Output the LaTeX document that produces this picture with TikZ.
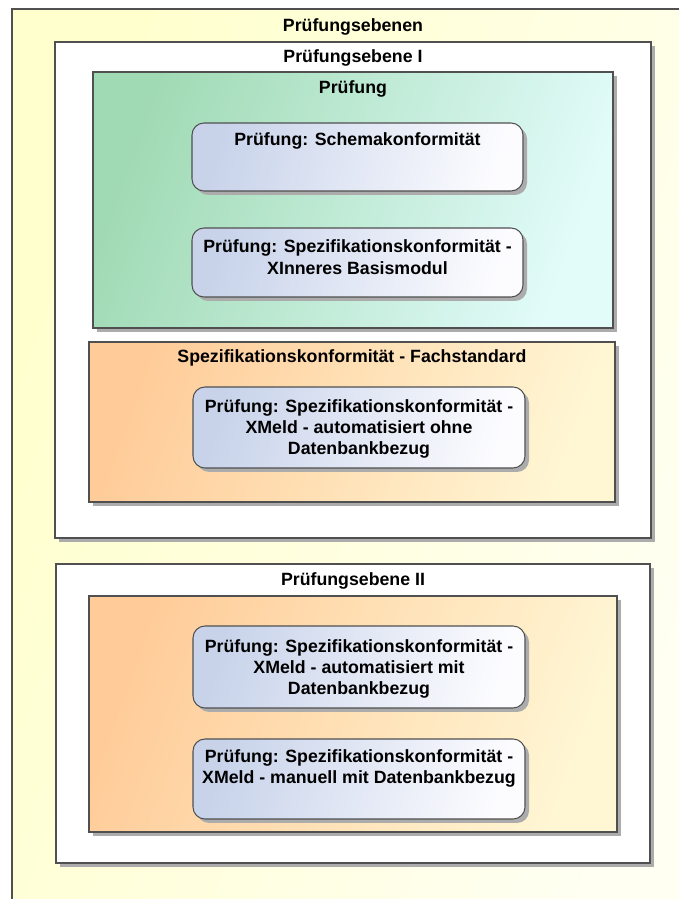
\documentclass[tikz,border=0pt]{standalone}
\usepackage{fontspec}
\setmainfont{Liberation Sans}
\usepackage{xcolor}
\definecolor{pfyellow}{RGB}{255,255,205}
\definecolor{pfyellow2}{RGB}{255,255,242}
\definecolor{pfgreen}{RGB}{160,218,180}
\definecolor{pfcyan}{RGB}{226,252,250}
\definecolor{pforange}{RGB}{255,204,153}
\definecolor{pforange2}{RGB}{255,246,212}
\definecolor{pfblue}{RGB}{200,211,234}
\definecolor{pfblue2}{RGB}{252,252,255}
\definecolor{pfline}{RGB}{80,80,80}
\definecolor{pfshadow}{RGB}{172,172,172}
\usepackage{tikz}
\usetikzlibrary{positioning, shadows}

\tikzset{
  pfshade/.style={drop shadow={shadow xshift=0.08cm, shadow yshift=-0.08cm, fill=pfshadow, opacity=1}},
  pfframe/.style={draw=pfline, line width=0.6pt, fill=white, pfshade},
  pfcheck/.style={draw=pfline, line width=0.6pt, rounded corners=0.24cm, pfshade,
    left color=pfblue, right color=pfblue2, shading angle=75},
  pflabel/.style={font=\fontsize{10.1}{12.2}\selectfont\bfseries, align=center, inner sep=0pt}
}

\begin{document}
\begin{tikzpicture}
  \clip (0,0) rectangle (13.58,17.98);
  \fill[white] (0,0) rectangle (13.58,17.98);

  % Outer frame
  \draw[draw=pfline, line width=0.6pt, left color=pfyellow, right color=pfyellow2, shading angle=70]
    (0.24,17.80) rectangle (13.80,-0.30);
  \node[pflabel] (ebenen) at (7.06,17.44) {Prüfungsebenen};

  % Pruefungsebene I
  \draw[pfframe] (1.10,17.14) rectangle (13.02,7.22);
  \node[pflabel] (ebeneI) at (7.06,16.82) {Prüfungsebene I};

  % Pruefung (green)
  \draw[pfshade, draw=pfline, line width=0.6pt, left color=pfgreen, right color=pfcyan, shading angle=70]
    (1.86,16.54) rectangle (12.26,11.42);
  \node[pflabel] (pruefung) at (7.06,16.20) {Prüfung};

  \draw[pfcheck] (3.84,15.52) rectangle (10.46,14.16);
  \node[pflabel] (schema) at (7.15,15.16) {Prüfung: Schemakonformität};

  \draw[pfcheck] (3.84,13.42) rectangle (10.46,12.04);
  \node[pflabel] (basis) at (7.15,12.84) {Prüfung: Spezifikationskonformität -\\XInneres Basismodul};

  % Fachstandard (orange)
  \draw[pfshade, draw=pfline, line width=0.6pt, left color=pforange, right color=pforange2, shading angle=70]
    (1.78,11.14) rectangle (12.30,7.94);
  \node[pflabel] (fach) at (7.04,10.82) {Spezifikationskonformität - Fachstandard};

  \draw[pfcheck] (3.86,10.24) rectangle (10.50,8.62);
  \node[pflabel] (ohne) at (7.18,9.40) {Prüfung: Spezifikationskonformität -\\XMeld - automatisiert ohne\\Datenbankbezug};

  % Pruefungsebene II
  \draw[pfframe] (1.12,6.70) rectangle (13.00,0.72);
  \node[pflabel] (ebeneII) at (7.06,6.36) {Prüfungsebene II};

  \draw[pfshade, draw=pfline, line width=0.6pt, left color=pforange, right color=pforange2, shading angle=70]
    (1.78,6.06) rectangle (12.34,1.34);

  \draw[pfcheck] (3.86,5.46) rectangle (10.50,3.82);
  \node[pflabel] (mit) at (7.18,4.60) {Prüfung: Spezifikationskonformität -\\XMeld - automatisiert mit\\Datenbankbezug};

  \draw[pfcheck] (3.86,3.20) rectangle (10.50,1.60);
  \node[pflabel] (manuell) at (7.18,2.61) {Prüfung: Spezifikationskonformität -\\XMeld - manuell mit Datenbankbezug};
\end{tikzpicture}
\end{document}
